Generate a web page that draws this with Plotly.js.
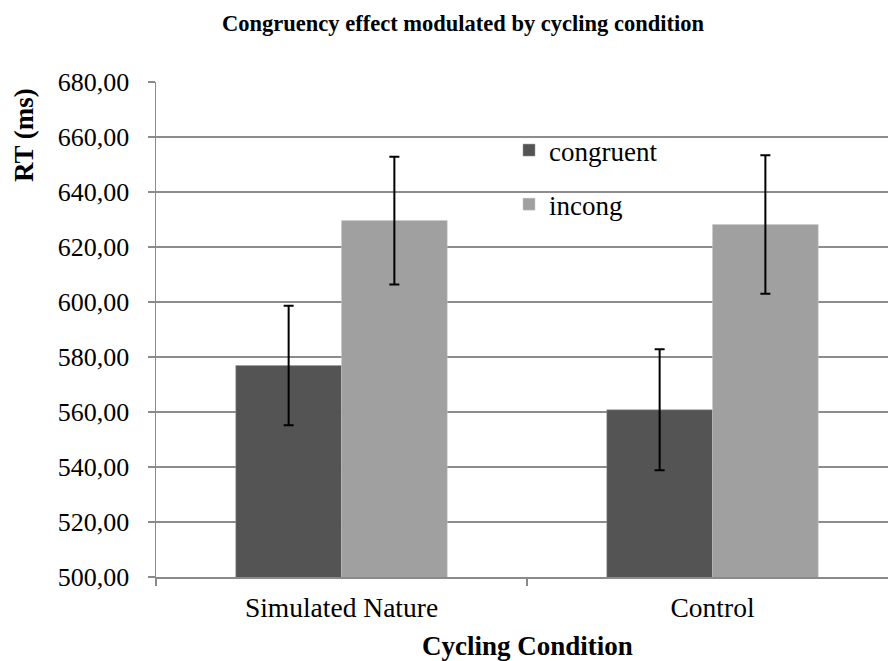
<!DOCTYPE html>
<html>
<head>
<meta charset="utf-8">
<script src="https://cdn.plot.ly/plotly-3.0.1.min.js"></script>
<style>
html,body{margin:0;padding:0;background:#fff;overflow:hidden;}
#chart{width:888px;height:661px;}
</style>
</head>
<body>
<div id="chart"></div>
<script>
const categories = ["Simulated Nature", "Control"];
const congruentRT = [576.9, 560.8];
const congruentErr = [21.7, 22.0];
const incongRT = [629.6, 628.2];
const incongErr = [23.2, 25.2];
const seriesNames = ["congruent", "incong"];
const yTicks = [500, 520, 540, 560, 580, 600, 620, 640, 660, 680];

const serif = "Liberation Serif";

const traces = [
  {
    type: "bar", name: seriesNames[0], x: categories, y: congruentRT,
    marker: {color: "#545454", line: {color: "#9a9a9a", width: 0.5}},
    error_y: {type: "data", array: congruentErr, visible: true, color: "#000", thickness: 2, width: 5},
    legendgroup: "a"
  },
  {
    type: "bar", name: seriesNames[1], x: categories, y: incongRT,
    marker: {color: "#a0a0a0", line: {color: "#c8c8c8", width: 0.5}},
    error_y: {type: "data", array: incongErr, visible: true, color: "#000", thickness: 2, width: 5},
    legendgroup: "b"
  }
];

const layout = {
  width: 888, height: 661,
  margin: {l: 156, r: 0, t: 82, b: 84, pad: 0},
  paper_bgcolor: "#fff", plot_bgcolor: "#fff",
  font: {family: serif, color: "#000", size: 26},
  separators: ",.",
  barmode: "group", bargap: 0.43, bargroupgap: 0,
  title: {text: "<b>Congruency effect modulated by cycling condition</b>", font: {family: serif, size: 22.5, color: "#000"},
          x: 463/888, xanchor: "center", y: 1 - 23/661, yanchor: "middle", xref: "container", yref: "container"},
  xaxis: {
    range: [-0.5, 1.473], showgrid: false, zeroline: false,
    showline: true, linecolor: "#8a8a8a", linewidth: 1.5,
    ticks: "outside", tickson: "boundaries", ticklen: 7, tickcolor: "#8a8a8a", tickwidth: 1.5,
    tickfont: {family: serif, size: 27.5, color: "#000"}, ticklabelstandoff: 5,
    fixedrange: true
  },
  yaxis: {
    range: [500, 680], tickvals: yTicks, tickformat: ".2f",
    showgrid: true, gridcolor: "#8c8c8c", gridwidth: 1.5,
    zeroline: false, showline: true, linecolor: "#8a8a8a", linewidth: 1.5,
    ticks: "outside", ticklen: 7, tickcolor: "#8a8a8a", tickwidth: 1.5,
    tickfont: {family: serif, size: 26, color: "#000"}, ticklabelstandoff: 13,
    fixedrange: true
  },
  showlegend: true,
  legend: {
    x: (509 - 156) / 732, y: (577 - 126) / 495, xanchor: "left", yanchor: "top",
    bgcolor: "rgba(0,0,0,0)", font: {family: serif, size: 27, color: "#000"},
    traceorder: "grouped", tracegroupgap: 16
  },
  annotations: [
    {text: "<b>RT (ms)</b>", xref: "paper", yref: "paper", x: (24 - 156) / 732, y: (577 - 135) / 495,
     xanchor: "center", yanchor: "middle", textangle: -90, showarrow: false,
     font: {family: serif, size: 27, color: "#000"}},
    {text: "<b>Cycling Condition</b>", xref: "paper", yref: "paper", x: (527 - 156) / 732, y: -(646 - 577) / 495,
     xanchor: "center", yanchor: "middle", showarrow: false,
     font: {family: serif, size: 27, color: "#000"}}
  ]
};

Plotly.newPlot("chart", traces, layout, {displayModeBar: false, staticPlot: true});
</script>
</body>
</html>
